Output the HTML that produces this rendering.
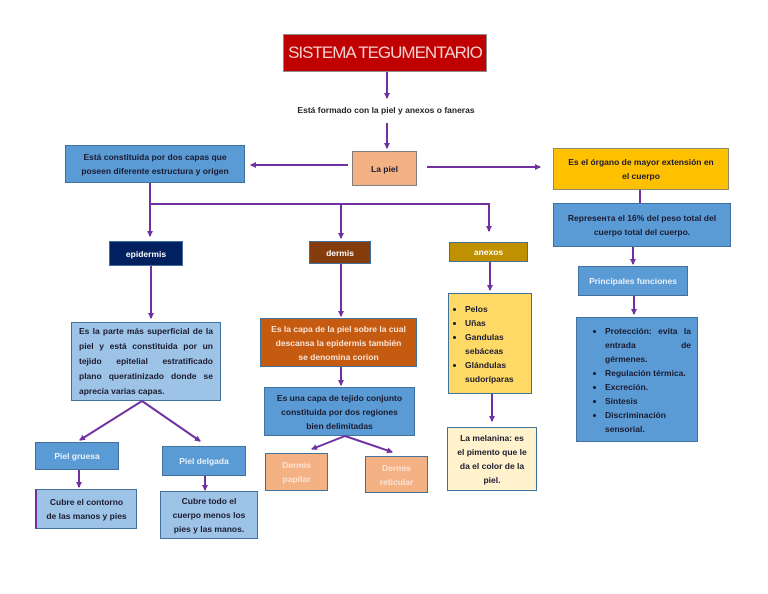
<!DOCTYPE html>
<html><head><meta charset="utf-8"><style>
body{margin:0;width:768px;height:594px;background:#fff;position:relative;overflow:hidden;font-family:"Liberation Sans",sans-serif;}
.b{position:absolute;box-sizing:border-box;border:1px solid #41719c;display:flex;align-items:center;justify-content:center;text-align:center;font-size:8.5px;font-weight:bold;line-height:14px;color:#1a1a2e;}
svg{position:absolute;left:0;top:0}
ul{margin:0;padding:0 0 0 18px;text-align:left}
li{margin:0}
</style></head><body>
<div class="b" style="left:283px;top:34px;width:204px;height:38px;background:#c00000;border-color:#8c8c8c;color:#f4d0d0;font-weight:normal;font-size:17px;letter-spacing:-1px">SISTEMA TEGUMENTARIO</div>
<div style="position:absolute;left:286px;top:105px;width:200px;text-align:center;font-size:8.5px;font-weight:bold;color:#222">Está formado con la piel y anexos o faneras</div>
<div class="b" style="left:352px;top:151px;width:65px;height:35px;background:#f4b183;border-color:#7f7f7f">La piel</div>
<div class="b" style="left:65px;top:145px;width:180px;height:38px;background:#5b9bd5">Está constituida por dos capas que<br>poseen diferente estructura y origen</div>
<div class="b" style="left:553px;top:148px;width:176px;height:42px;background:#ffc000;border-color:#8c8c6c">Es el órgano de mayor extensión en<br>el cuerpo</div>
<div class="b" style="left:553px;top:203px;width:178px;height:44px;background:#5b9bd5">Represента el 16% del peso total del<br>cuerpo total del cuerpo.</div>
<div class="b" style="left:578px;top:266px;width:110px;height:30px;background:#5b9bd5;color:#e8f0fa">Principales funciones</div>
<div class="b" style="left:576px;top:317px;width:122px;height:125px;background:#5b9bd5;justify-content:flex-start"><ul style="padding-left:28px;padding-right:6px;text-align:justify"><li>Protección: evita la entrada de gérmenes.</li><li>Regulación térmica.</li><li>Excreción.</li><li>Síntesis</li><li>Discriminación sensorial.</li></ul></div>
<div class="b" style="left:109px;top:241px;width:74px;height:25px;background:#002060;color:#fff">epidermis</div>
<div class="b" style="left:309px;top:241px;width:62px;height:23px;background:#843c0c;color:#fff">dermis</div>
<div class="b" style="left:449px;top:242px;width:79px;height:20px;background:#bf9000;color:#fff">anexos</div>
<div class="b" style="left:448px;top:293px;width:84px;height:101px;background:#ffd966;justify-content:flex-start"><ul style="padding-left:16px"><li>Pelos</li><li>Uñas</li><li>Gandulas sebáceas</li><li>Glándulas sudoríparas</li></ul></div>
<div class="b" style="left:447px;top:427px;width:90px;height:64px;background:#fff2cc">La melanina: es<br>el pimento que le<br>da el color de la<br>piel.</div>
<div class="b" style="left:71px;top:322px;width:150px;height:79px;background:#9dc3e6;text-align:justify;padding:0 7px;line-height:15px">Es la parte más superficial de la piel y está constituida por un tejido epitelial estratificado plano queratinizado donde se aprecia varias capas.</div>
<div class="b" style="left:35px;top:442px;width:84px;height:28px;background:#5b9bd5;color:#e8f0fa">Piel gruesa</div>
<div class="b" style="left:162px;top:446px;width:84px;height:30px;background:#5b9bd5;color:#e8f0fa">Piel delgada</div>
<div class="b" style="left:35px;top:489px;width:102px;height:40px;background:#9dc3e6;border-left:2px solid #7030a0">Cubre el contorno<br>de las manos y pies</div>
<div class="b" style="left:160px;top:491px;width:98px;height:48px;background:#9dc3e6">Cubre todo el<br>cuerpo menos los<br>pies y las manos.</div>
<div class="b" style="left:260px;top:318px;width:157px;height:49px;background:#c55a11;color:#fbe5d6">Es la capa de la piel sobre la cual<br>descansa la epidermis también<br>se denomina corion</div>
<div class="b" style="left:264px;top:387px;width:151px;height:49px;background:#5b9bd5">Es una capa de tejido conjunto<br>constituida por dos regiones<br>bien delimitadas</div>
<div class="b" style="left:265px;top:453px;width:63px;height:38px;background:#f4b183;color:#fbe5d6">Dermis<br>papilar</div>
<div class="b" style="left:365px;top:456px;width:63px;height:37px;background:#f4b183;color:#fbe5d6">Dermis<br>reticular</div>
<svg width="768" height="594"><defs><marker id="a" markerWidth="6" markerHeight="6" refX="5" refY="3" orient="auto" markerUnits="userSpaceOnUse"><path d="M0,0L6,3L0,6z" fill="#7030a0"/></marker></defs>
<g stroke="#7030a0" stroke-width="2" fill="none">
<path d="M387 72V98" marker-end="url(#a)"/>
<path d="M387 123V148" marker-end="url(#a)"/>
<path d="M348 165H251" marker-end="url(#a)"/>
<path d="M427 167H540" marker-end="url(#a)"/>
<path d="M150 183V236" marker-end="url(#a)"/>
<path d="M150 204H489V231" marker-end="url(#a)"/>
<path d="M341 204V238" marker-end="url(#a)"/>
<path d="M151 266V318" marker-end="url(#a)"/>
<path d="M341 264V316" marker-end="url(#a)"/>
<path d="M490 262V290" marker-end="url(#a)"/>
<path d="M492 394V421" marker-end="url(#a)"/>
<path d="M640 190V203"/>
<path d="M633 247V264" marker-end="url(#a)"/>
<path d="M634 296V314" marker-end="url(#a)"/>
<path d="M142 401L80 440" marker-end="url(#a)"/>
<path d="M142 401L200 441" marker-end="url(#a)"/>
<path d="M79 470V487" marker-end="url(#a)"/>
<path d="M205 476V490" marker-end="url(#a)"/>
<path d="M341 367V385" marker-end="url(#a)"/>
<path d="M345 436L312 449" marker-end="url(#a)"/>
<path d="M345 436L392 452" marker-end="url(#a)"/>
</g></svg>
</body></html>
